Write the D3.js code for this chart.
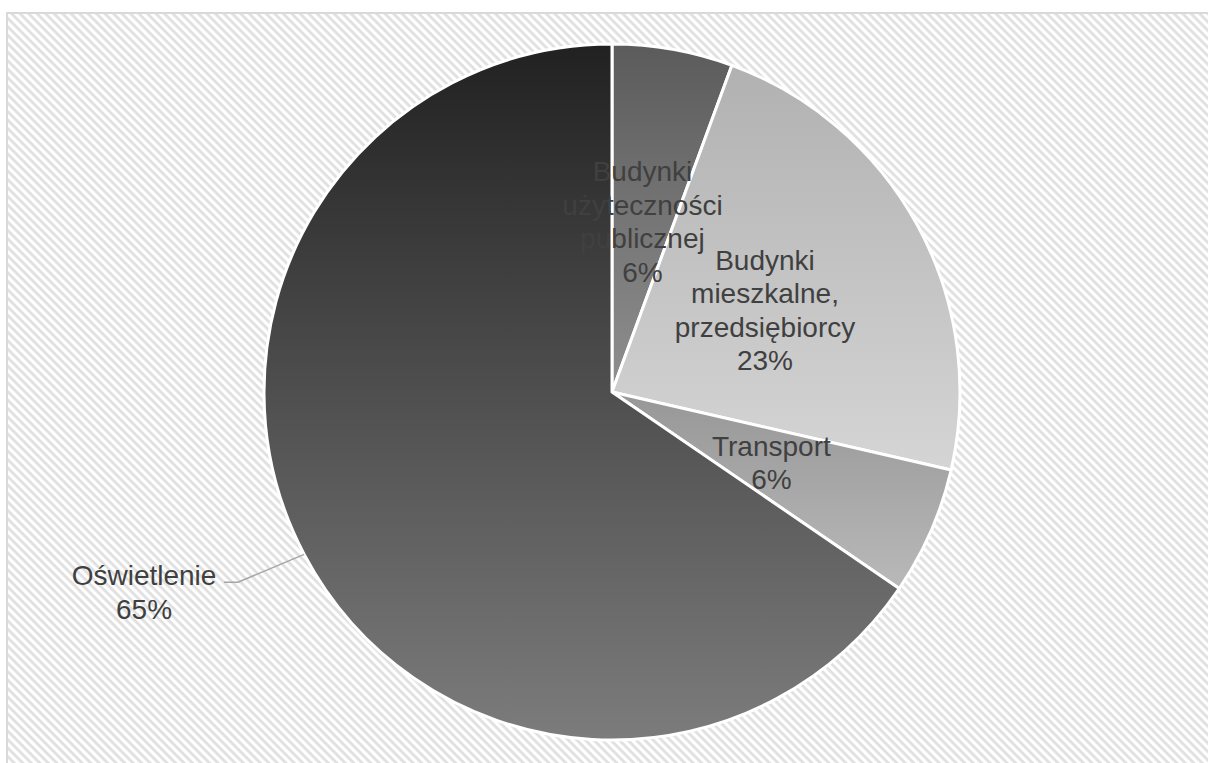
<!DOCTYPE html>
<html>
<head>
<meta charset="utf-8">
<script src="https://cdn.jsdelivr.net/npm/d3@7"></script>
<style>
  html, body { margin: 0; padding: 0; background: #ffffff; }
  svg { display: block; }
</style>
</head>
<body>
<div id="chart"></div>
<script>
// Energy-use shares by sector
const categories = [
  "Budynki użyteczności publicznej",
  "Budynki mieszkalne, przedsiębiorcy",
  "Transport",
  "Oświetlenie"
];
const values = [5.6, 23.0, 5.95, 65.45];
// Label lines for each category
const labelLines = [
  ["Budynki", "użyteczności", "publicznej"],
  ["Budynki", "mieszkalne,", "przedsiębiorcy"],
  ["Transport"],
  ["Oświetlenie"]
];
// Gradient stops (top, bottom) per slice
const gradTop = ["#5b5b5b", "#b1b1b1", "#979797", "#212121"];
const gradBottom = ["#8f8f8f", "#d5d5d5", "#b9b9b9", "#7c7c7c"];
const outsideLabel = [false, false, false, true];

const W = 1208, H = 763;
const cx = 612, cy = 392, R = 348;
const fontSize = 28, lineH = 33.5;

const svg = d3.select("#chart").append("svg")
  .attr("width", W).attr("height", H);

const defs = svg.append("defs");

// diagonal hatch for the chart area
const pat = defs.append("pattern")
  .attr("id", "hatch")
  .attr("patternUnits", "userSpaceOnUse")
  .attr("width", 6).attr("height", 6)
  .attr("patternTransform", "rotate(45)");
pat.append("rect").attr("width", 6).attr("height", 6).attr("fill", "#ffffff");
pat.append("rect").attr("width", 6).attr("height", 2.8).attr("fill", "#e0e0e0");

categories.forEach((c, i) => {
  const g = defs.append("linearGradient")
    .attr("id", "grad" + i)
    .attr("x1", 0).attr("y1", 0).attr("x2", 0).attr("y2", 1);
  g.append("stop").attr("offset", "0%").attr("stop-color", gradTop[i]);
  g.append("stop").attr("offset", "100%").attr("stop-color", gradBottom[i]);
});

// chart area with border
svg.append("rect")
  .attr("x", 7).attr("y", 13)
  .attr("width", W + 10).attr("height", H + 10)
  .attr("fill", "url(#hatch)")
  .attr("stroke", "#d9d9d9")
  .attr("stroke-width", 2);

const total = d3.sum(values);
const pie = d3.pie().sort(null).value(d => d)(values);
const arc = d3.arc().innerRadius(0).outerRadius(R);

const g = svg.append("g").attr("transform", `translate(${cx},${cy})`);

g.selectAll("path.slice")
  .data(pie)
  .join("path")
  .attr("class", "slice")
  .attr("d", arc)
  .attr("fill", (d, i) => `url(#grad${i})`)
  .attr("stroke", "#ffffff")
  .attr("stroke-width", 3)
  .attr("stroke-linejoin", "round");

const pct = v => Math.round(v / total * 100) + "%";

pie.forEach((d, i) => {
  const lines = labelLines[i].concat([pct(d.value)]);
  const mid = (d.startAngle + d.endAngle) / 2;
  let x, y, anchor = "middle";
  if (!outsideLabel[i]) {
    [x, y] = arc.centroid(d);
    y += 1;
  } else {
    // leader line: rim -> elbow -> short horizontal
    const sx = Math.sin(mid) * R, sy = -Math.cos(mid) * R;
    const ex = Math.sin(mid) * R * 1.215, ey = -Math.cos(mid) * R * 1.215 - 7;
    const hx = ex - 14;
    g.append("polyline")
      .attr("points", `${sx},${sy} ${ex},${ey} ${hx},${ey}`)
      .attr("fill", "none")
      .attr("stroke", "#a6a6a6")
      .attr("stroke-width", 1.5);
    x = hx - 7 - 73;
    y = ey + 10;
  }
  const t = g.append("text")
    .attr("text-anchor", anchor)
    .attr("font-family", "'Liberation Sans', Arial, sans-serif")
    .attr("font-size", fontSize)
    .attr("fill", "#404040");
  const n = lines.length;
  lines.forEach((ln, k) => {
    t.append("tspan")
      .attr("x", x)
      .attr("y", y + (k - (n - 1) / 2) * lineH + fontSize * 0.35)
      .text(ln);
  });
});
</script>
</body>
</html>
